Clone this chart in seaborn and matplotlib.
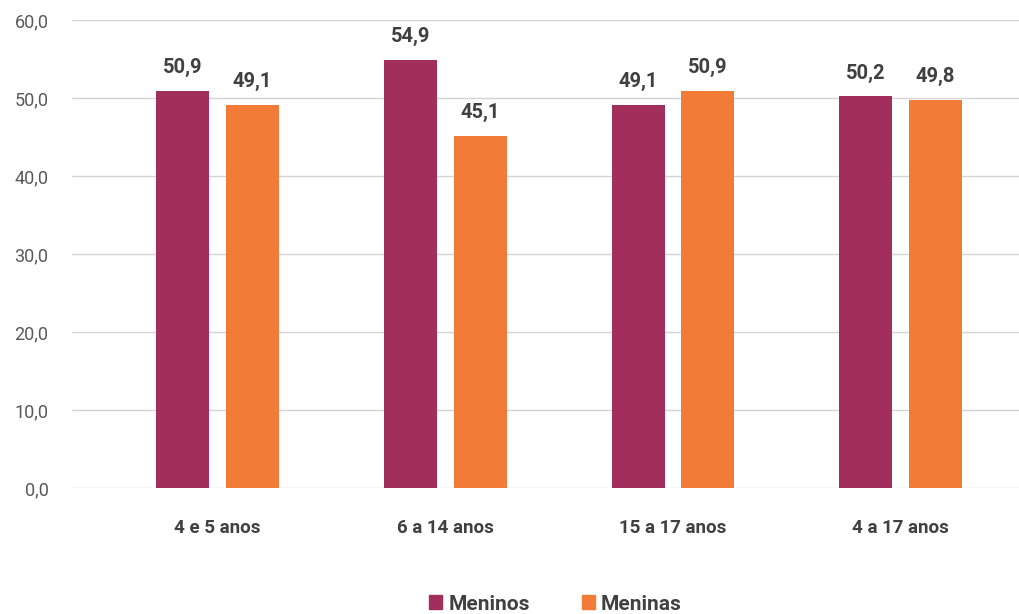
import matplotlib
matplotlib.use("Agg")
import matplotlib.pyplot as plt
import seaborn as sns
import pandas as pd
from matplotlib.patches import Patch

categories = ["4 e 5 anos", "6 a 14 anos", "15 a 17 anos", "4 a 17 anos"]
series_names = ["Meninos", "Meninas"]
meninos = [50.9, 54.9, 49.1, 50.2]
meninas = [49.1, 45.1, 50.9, 49.8]
yticks = [0, 10, 20, 30, 40, 50, 60]

colors = {"Meninos": "#A12E5B", "Meninas": "#F27B38"}

df = pd.DataFrame({
    "cat": categories * 2,
    "serie": [series_names[0]] * 4 + [series_names[1]] * 4,
    "val": meninos + meninas,
})

sns.set_style("white")
plt.rcParams["font.family"] = ["Roboto", "DejaVu Sans"]

fig = plt.figure(figsize=(10.19, 6.14), dpi=100)
ax = fig.add_axes([72 / 1019, 126 / 614, (1019 - 72) / 1019, 468 / 614])

sns.barplot(data=df, x="cat", y="val", hue="serie", palette=colors,
            width=0.61, gap=0.237, ax=ax, legend=False, saturation=1,
            linewidth=0, edgecolor="none")

ax.set_ylim(0, 60)
ax.set_xlim(-0.64, 3.52)
ax.set_yticks(yticks)
ax.set_yticklabels([f"{v:.1f}".replace(".", ",") for v in yticks],
                   fontsize=13, color="#595959")
ax.yaxis.grid(True, color="#d4d4d4", linewidth=1)
ax.set_axisbelow(True)
for s in ax.spines.values():
    s.set_visible(False)
ax.tick_params(axis="y", length=0, pad=17)
ax.tick_params(axis="x", length=0, pad=22)
ax.set_xticks(range(len(categories)))
ax.set_xticklabels(categories, fontsize=13.5, fontweight="bold", color="#404040")
ax.set_xlabel("")
ax.set_ylabel("")

for cont in ax.containers:
    labels = [f"{b.get_height():.1f}".replace(".", ",") for b in cont]
    ax.bar_label(cont, labels=labels, padding=10, fontsize=14.5,
                 fontweight="bold", color="#404040")

handles = [Patch(color=colors[n], label=n) for n in series_names]
fig.legend(handles=handles, loc="center", bbox_to_anchor=(0.545, 1 - 604 / 614),
           ncol=2, frameon=False, prop={"weight": "bold", "size": 15},
           handlelength=0.63, handleheight=0.63, handletextpad=0.3,
           columnspacing=2.5, labelcolor="#404040", borderpad=0)

fig.savefig("out.png", dpi=100)
